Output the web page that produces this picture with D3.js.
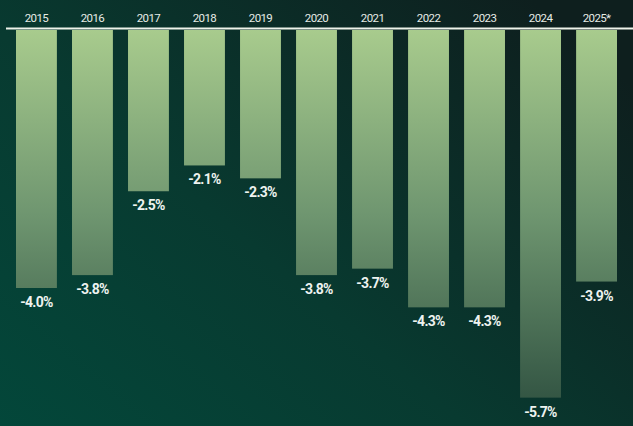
<!DOCTYPE html>
<html>
<head>
<meta charset="utf-8">
<script src="https://cdn.jsdelivr.net/npm/d3@7"></script>
<style>
  html, body { margin: 0; padding: 0; background: #0a2a26; }
  svg { display: block; }
</style>
</head>
<body>
<div id="chart"></div>
<script>
const years = ["2015", "2016", "2017", "2018", "2019", "2020", "2021", "2022", "2023", "2024", "2025*"];
const values = [-4.0, -3.8, -2.5, -2.1, -2.3, -3.8, -3.7, -4.3, -4.3, -5.7, -3.9];
const valueLabels = ["-4.0%", "-3.8%", "-2.5%", "-2.1%", "-2.3%", "-3.8%", "-3.7%", "-4.3%", "-4.3%", "-5.7%", "-3.9%"];

const width = 633, height = 426;
const baseY = 30;

const svg = d3.select("#chart").append("svg")
    .attr("width", width)
    .attr("height", height);

const defs = svg.append("defs");

// background
const bg = defs.append("linearGradient")
    .attr("id", "bg")
    .attr("x1", "0").attr("y1", "1")
    .attr("x2", "1").attr("y2", "0.2");
bg.append("stop").attr("offset", "0").attr("stop-color", "#03473a");
bg.append("stop").attr("offset", "0.45").attr("stop-color", "#083a30");
bg.append("stop").attr("offset", "1").attr("stop-color", "#0e1f1e");

svg.append("rect")
    .attr("width", width)
    .attr("height", height)
    .attr("fill", "url(#bg)");

let x = d3.scaleBand()
    .domain(years)
    .range([16, 617])
    .paddingInner(0.27)
    .paddingOuter(0);

let y = d3.scaleLinear()
    .domain([0, -6])
    .range([baseY, baseY + 6 * 64.5]);

// bar fill shades with depth
const barGrad = defs.append("linearGradient")
    .attr("id", "bar")
    .attr("gradientUnits", "userSpaceOnUse")
    .attr("x1", 0).attr("y1", y(0))
    .attr("x2", 0).attr("y2", y(-5.7));
barGrad.append("stop").attr("offset", "0").attr("stop-color", "#a8cb8d");
barGrad.append("stop").attr("offset", "0.5").attr("stop-color", "#6f9670");
barGrad.append("stop").attr("offset", "1").attr("stop-color", "#345644");

const data = years.map((d, i) => ({year: d, value: values[i], label: valueLabels[i]}));

svg.selectAll("rect.bar")
    .data(data)
    .enter()
    .append("rect")
    .attr("class", "bar")
    .attr("x", d => x(d.year))
    .attr("y", y(0))
    .attr("width", x.bandwidth())
    .attr("height", d => y(d.value) - y(0))
    .attr("fill", "url(#bar)");

// top axis with year labels
let xAxis = g => g
    .attr("transform", `translate(0,${baseY - 1.5})`)
    .call(d3.axisTop(x).tickSize(0).tickPadding(7))
    .call(g => g.select(".domain").remove())
    .call(g => g.selectAll(".tick text")
        .attr("fill", "#e6ece6")
        .attr("font-family", "Roboto, 'Noto Sans', sans-serif")
        .attr("font-size", 11.5)
        .attr("letter-spacing", "-0.6"));

svg.append("g").call(xAxis);

svg.append("line")
    .attr("x1", 6)
    .attr("x2", width)
    .attr("y1", baseY - 1.5)
    .attr("y2", baseY - 1.5)
    .attr("stroke", "#eef3ea")
    .attr("stroke-width", 2);

svg.selectAll("text.val")
    .data(data)
    .enter()
    .append("text")
    .attr("class", "val")
    .text(d => d.label)
    .attr("x", d => x(d.year) + x.bandwidth() / 2)
    .attr("y", d => y(d.value) + 19)
    .attr("text-anchor", "middle")
    .attr("fill", "#eef3f0")
    .attr("font-family", "Roboto, 'Noto Sans', sans-serif")
    .attr("font-weight", "bold")
    .attr("font-size", 14)
    .attr("letter-spacing", "-0.7");
</script>
</body>
</html>
